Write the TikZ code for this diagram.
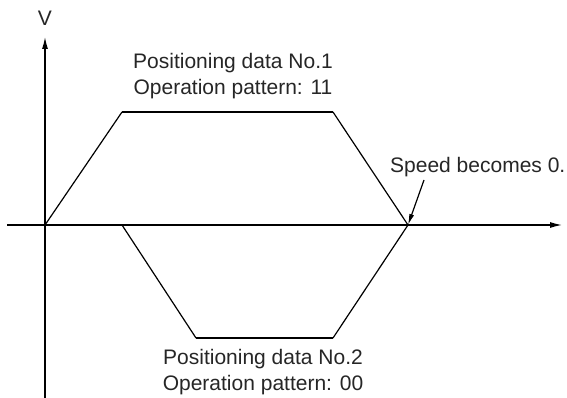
\documentclass[tikz,border=0pt]{standalone}
\usepackage{fontspec}
\setmainfont{Liberation Sans}
\usetikzlibrary{arrows.meta}
\begin{document}
\begin{tikzpicture}[x=1pt,y=-1pt,
  axis/.style={line width=1.3pt,-{Latex[length=12pt,width=6pt]}},
  slant/.style={line width=1.2pt},
  flat/.style={line width=2.4pt},
  lbl/.style={font=\fontsize{21}{26}\selectfont,text=black!85,inner sep=0pt,align=center},
  pointer/.style={line width=1.2pt,-{Latex[length=11pt,width=5pt]}}]
\useasboundingbox (0,0) rectangle (567,398);
% axes
\coordinate (yb) at (45,398);
\coordinate (yt) at (45,37);
\coordinate (xl) at (7,225);
\coordinate (xr) at (562,225);
\draw[axis] (yb) -- (yt);
\draw[axis] (xl) -- (xr);
\node[lbl,anchor=base] (V) at (45,26) {V};
% upper trapezoid
\coordinate (o) at (45,225);
\coordinate (u1) at (122,112);
\coordinate (u2) at (333,112);
\coordinate (z) at (408,225);
\draw[slant] (o) -- (u1);
\draw[flat] (u1) -- (u2);
\draw[slant] (u2) -- (z);
% lower trapezoid
\coordinate (s) at (122,225);
\coordinate (l1) at (196,338);
\coordinate (l2) at (333,338);
\draw[slant] (s) -- (l1);
\draw[flat] (l1) -- (l2);
\draw[slant] (l2) -- (z);
% labels
\node[lbl,anchor=base] (p1) at (233,95) {Positioning data No.1\\Operation pattern: 11};
\node[lbl,anchor=base] (p2) at (263,390.5) {Positioning data No.2\\Operation pattern: 00};
\node[lbl,anchor=base west] (sp) at (390,172) {Speed becomes 0.};
\coordinate (pa) at (424,180);
\draw[pointer] (pa) -- (z);
\end{tikzpicture}
\end{document}
